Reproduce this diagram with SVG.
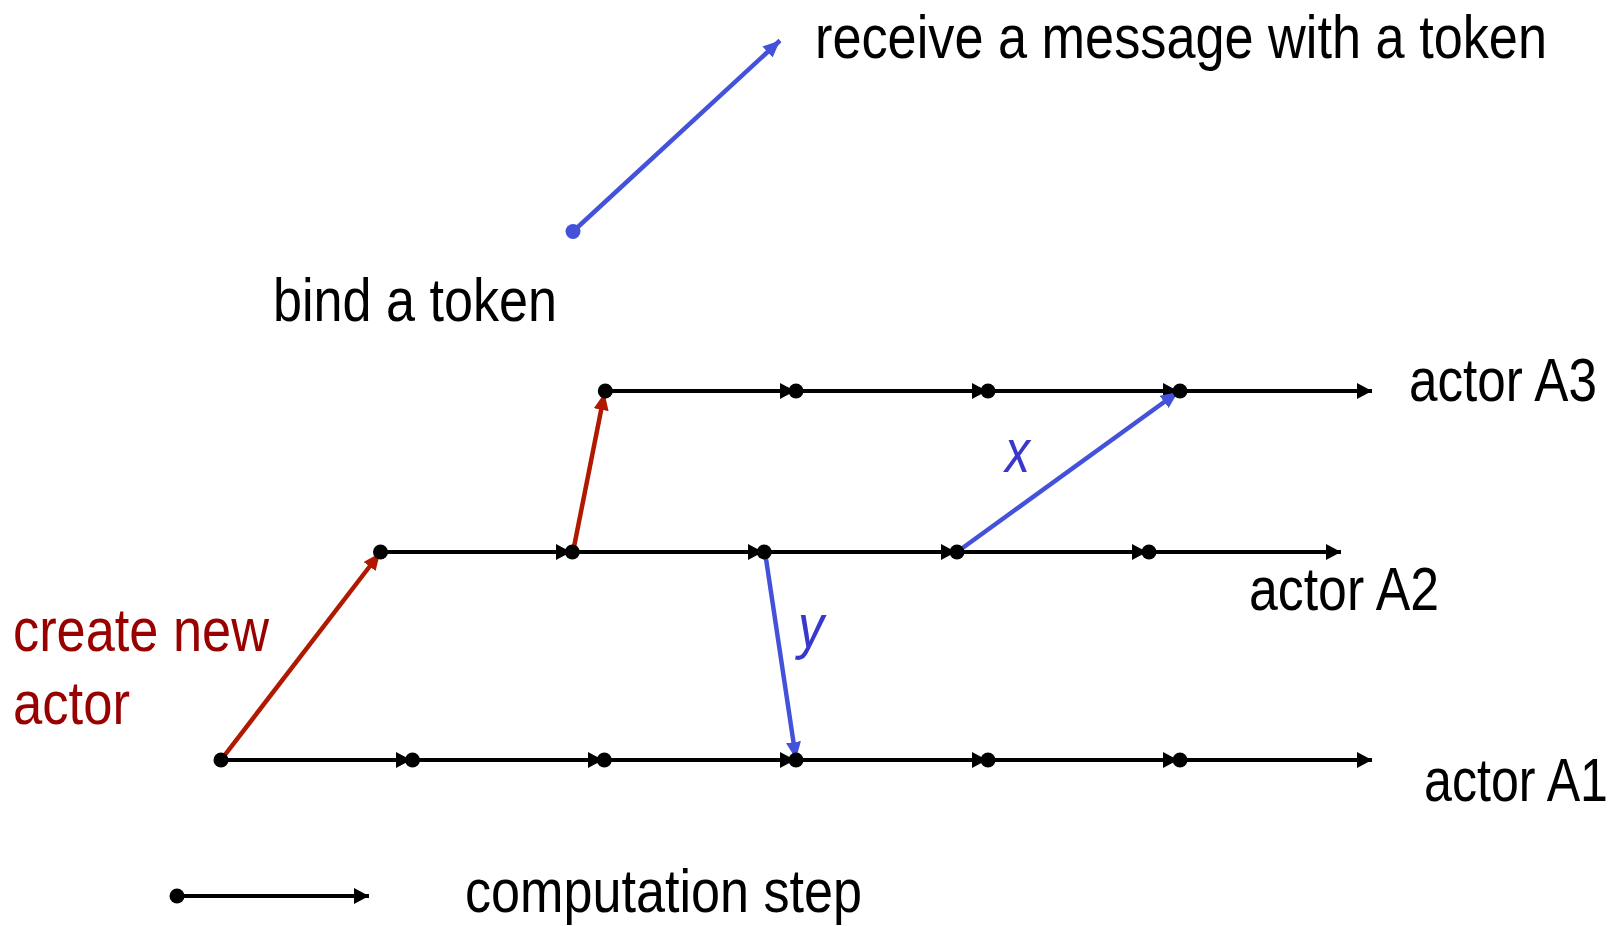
<svg xmlns="http://www.w3.org/2000/svg" width="1617" height="926" viewBox="0 0 1617 926">
<style>
  text { font-family: "Liberation Sans", Arial, sans-serif; font-size: 62px; }
  .blk { fill: #000; }
  .red { fill: #990000; }
  .lbl { fill: #3838CC; font-style: italic; }
  .step { stroke: #000; stroke-width: 4; fill: none; marker-end: url(#ah-black); }
  .dot { fill: #000; }
  .rarr { stroke: #B01800; stroke-width: 4.5; fill: none; marker-end: url(#ah-red); }
  .barr { stroke: #4352D9; stroke-width: 4.5; fill: none; marker-end: url(#ah-blue); }
</style>
<defs>
  <marker id="ah-black" markerUnits="userSpaceOnUse" markerWidth="16" markerHeight="16" refX="15" refY="8" orient="auto">
    <path d="M0,0 L15,8 L0,16 z" fill="#000"/>
  </marker>
  <marker id="ah-red" markerUnits="userSpaceOnUse" markerWidth="18" markerHeight="15" refX="17" refY="7.5" orient="auto">
    <path d="M0,0 L17,7.5 L0,15 z" fill="#B01800"/>
  </marker>
  <marker id="ah-blue" markerUnits="userSpaceOnUse" markerWidth="18" markerHeight="15" refX="17" refY="7.5" orient="auto">
    <path d="M0,0 L17,7.5 L0,15 z" fill="#4352D9"/>
  </marker>
</defs>
<rect width="1617" height="926" fill="#fff"/>

<g id="connectors">
  <!-- actor A1 steps -->
  <line class="step" x1="221" y1="760" x2="411" y2="760"/>
  <line class="step" x1="412.5" y1="760" x2="603" y2="760"/>
  <line class="step" x1="604.3" y1="760" x2="795" y2="760"/>
  <line class="step" x1="796" y1="760" x2="987" y2="760"/>
  <line class="step" x1="988" y1="760" x2="1178" y2="760"/>
  <line class="step" x1="1180" y1="760" x2="1372" y2="760"/>
  <!-- actor A2 steps -->
  <line class="step" x1="380.5" y1="552" x2="571" y2="552"/>
  <line class="step" x1="572.3" y1="552" x2="763" y2="552"/>
  <line class="step" x1="764.2" y1="552" x2="956" y2="552"/>
  <line class="step" x1="957" y1="552" x2="1147" y2="552"/>
  <line class="step" x1="1149" y1="552" x2="1341" y2="552"/>
  <!-- actor A3 steps -->
  <line class="step" x1="605.3" y1="391" x2="795" y2="391"/>
  <line class="step" x1="796" y1="391" x2="987" y2="391"/>
  <line class="step" x1="988" y1="391" x2="1178" y2="391"/>
  <line class="step" x1="1180" y1="391" x2="1372" y2="391"/>
  <!-- create new actor -->
  <line class="rarr" x1="221" y1="760" x2="380" y2="553"/>
  <line class="rarr" x1="573" y1="552" x2="604.5" y2="393"/>
  <!-- messages -->
  <line class="barr" x1="957" y1="552" x2="1178" y2="392"/>
  <line class="barr" x1="765" y1="552" x2="796" y2="759"/>
  <!-- legend: token -->
  <line class="barr" x1="573" y1="231.5" x2="780" y2="40.5"/>
  <!-- legend: computation step -->
  <line class="step" x1="177" y1="896" x2="369" y2="896"/>
</g>

<g id="dots">
  <circle class="dot" cx="221" cy="760" r="7.5"/>
  <circle class="dot" cx="412.5" cy="760" r="7.5"/>
  <circle class="dot" cx="604.3" cy="760" r="7.5"/>
  <circle class="dot" cx="796" cy="760" r="7.5"/>
  <circle class="dot" cx="988" cy="760" r="7.5"/>
  <circle class="dot" cx="1180" cy="760" r="7.5"/>
  <circle class="dot" cx="380.5" cy="552" r="7.5"/>
  <circle class="dot" cx="572.3" cy="552" r="7.5"/>
  <circle class="dot" cx="764.2" cy="552" r="7.5"/>
  <circle class="dot" cx="957" cy="552" r="7.5"/>
  <circle class="dot" cx="1149" cy="552" r="7.5"/>
  <circle class="dot" cx="605.3" cy="391" r="7.5"/>
  <circle class="dot" cx="796" cy="391" r="7.5"/>
  <circle class="dot" cx="988" cy="391" r="7.5"/>
  <circle class="dot" cx="1180" cy="391" r="7.5"/>
  <circle cx="573" cy="231.5" r="7.5" fill="#4352D9"/>
  <circle class="dot" cx="177" cy="896" r="7.5"/>
</g>

<g id="actor-A1"><text class="blk" x="1424" y="801" textLength="184" lengthAdjust="spacingAndGlyphs">actor A1</text></g>
<g id="actor-A2"><text class="blk" x="1249" y="610" textLength="190" lengthAdjust="spacingAndGlyphs">actor A2</text></g>
<g id="actor-A3"><text class="blk" x="1409" y="401" textLength="188" lengthAdjust="spacingAndGlyphs">actor A3</text></g>
<g id="label-receive"><text class="blk" x="815" y="58" textLength="732" lengthAdjust="spacingAndGlyphs">receive a message with a token</text></g>
<g id="label-bind"><text class="blk" x="273" y="321" textLength="284" lengthAdjust="spacingAndGlyphs">bind a token</text></g>
<g id="label-create">
  <text class="red" x="13" y="651" textLength="256" lengthAdjust="spacingAndGlyphs">create new</text>
  <text class="red" x="13" y="724" textLength="117" lengthAdjust="spacingAndGlyphs">actor</text>
</g>
<g id="label-step"><text class="blk" x="465" y="912" textLength="397" lengthAdjust="spacingAndGlyphs">computation step</text></g>
<g id="label-x"><text class="lbl" x="1005" y="472" textLength="25" lengthAdjust="spacingAndGlyphs">x</text></g>
<g id="label-y"><text class="lbl" x="798" y="647" textLength="26" lengthAdjust="spacingAndGlyphs">y</text></g>
</svg>
